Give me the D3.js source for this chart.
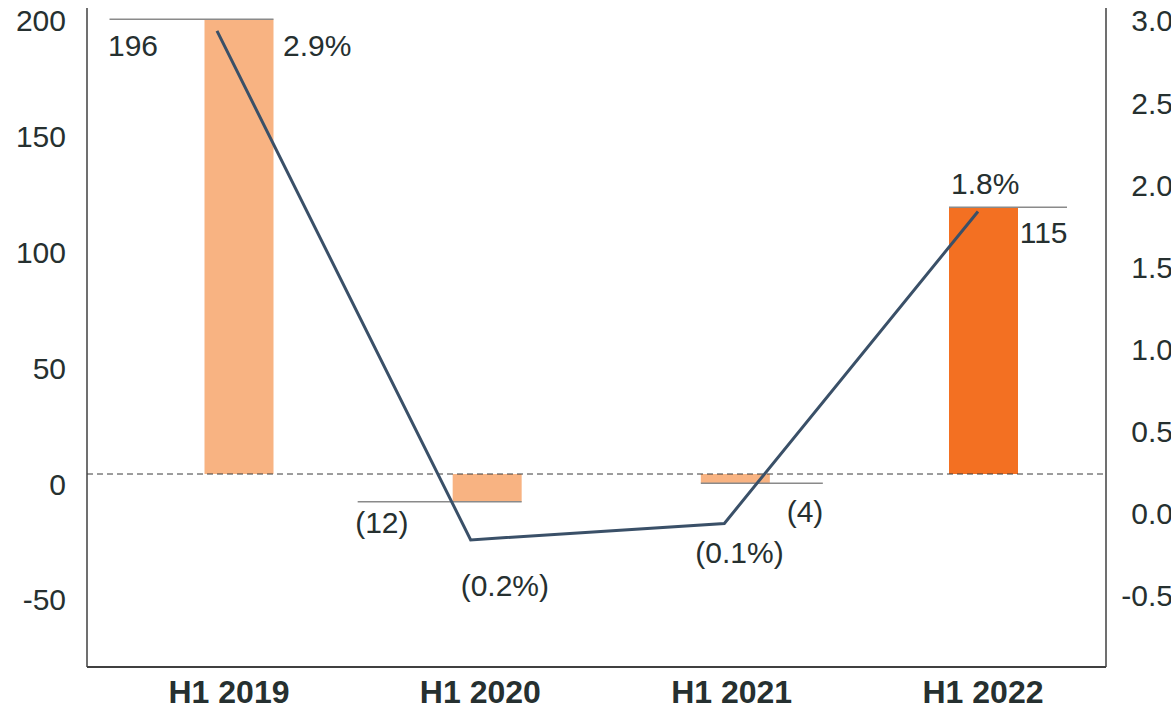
<!DOCTYPE html>
<html>
<head>
<meta charset="utf-8">
<script src="https://cdn.jsdelivr.net/npm/d3@7"></script>
<style>
  html, body { margin: 0; padding: 0; background: #ffffff; }
  svg { display: block; font-family: "Liberation Sans", Arial, sans-serif; }
</style>
</head>
<body>
<svg id="chart" width="1171" height="709"></svg>
<script>
// Half-year results: absolute change (bars, left axis) and margin change in % (line, right axis)
const categories = ["H1 2019", "H1 2020", "H1 2021", "H1 2022"];
const barValues = [196, -12, -4, 115];
const barLabels = ["196", "(12)", "(4)", "115"];
const pctValues = [2.9, -0.2, -0.1, 1.8];
const pctLabels = ["2.9%", "(0.2%)", "(0.1%)", "1.8%"];
const leftTicks = [200, 150, 100, 50, 0, -50];
const rightTicks = [3.0, 2.5, 2.0, 1.5, 1.0, 0.5, 0.0, -0.5];

// Which bars use the highlight colour
const highlight = [false, false, false, true];

const svg = d3.select("#chart");
const textColor = "#263030";
const fontSize = 30;

const plot = { left: 87, right: 1106, top: 8, bottom: 667 };

const yL = d3.scaleLinear().domain([-83.2, 200.9]).range([plot.bottom, plot.top]);
const yR = d3.scaleLinear().domain([-0.974, 3.039]).range([plot.bottom, plot.top]);
const xBar = d3.scalePoint().domain(categories).range([239, 983.5]);
const xLine = d3.scalePoint().domain(categories).range([217, 978]);
const xCat = d3.scalePoint().domain(categories).range([229, 983]);
const barW = 69;

// Bars
svg.append("g").selectAll("rect")
  .data(categories)
  .join("rect")
  .attr("x", d => xBar(d) - barW / 2)
  .attr("width", barW)
  .attr("y", (d, i) => Math.min(yL(0), yL(barValues[i])))
  .attr("height", (d, i) => Math.abs(yL(barValues[i]) - yL(0)))
  .attr("fill", (d, i) => highlight[i] ? "#F37022" : "#F8B382");

// Leader lines at bar ends: [extend left, extend right] beyond the bar
const leaders = [[95, 0], [95, 0], [0, 53], [0, 49]];
svg.append("g").selectAll("line")
  .data(categories)
  .join("line")
  .attr("x1", (d, i) => xBar(d) - barW / 2 - leaders[i][0])
  .attr("x2", (d, i) => xBar(d) + barW / 2 + leaders[i][1])
  .attr("y1", (d, i) => yL(barValues[i]))
  .attr("y2", (d, i) => yL(barValues[i]))
  .attr("stroke", "#8a8a8a")
  .attr("stroke-width", 1.5);

// Zero reference line
svg.append("line")
  .attr("x1", plot.left).attr("x2", plot.right)
  .attr("y1", yL(0)).attr("y2", yL(0))
  .attr("stroke", "#3a3a3a")
  .attr("stroke-width", 1)
  .attr("stroke-dasharray", "6,4");

// Percentage line
const line = d3.line()
  .x((d, i) => xLine(categories[i]))
  .y(d => yR(d));
svg.append("path")
  .datum(pctValues)
  .attr("d", line)
  .attr("fill", "none")
  .attr("stroke", "#3A5068")
  .attr("stroke-width", 3)
  .attr("stroke-linejoin", "miter");

// Axes frame
const axisColor = "#404040";
svg.append("line").attr("x1", plot.left).attr("x2", plot.left)
  .attr("y1", plot.top).attr("y2", plot.bottom)
  .attr("stroke", axisColor).attr("stroke-width", 1.5);
svg.append("line").attr("x1", plot.right).attr("x2", plot.right)
  .attr("y1", plot.top).attr("y2", plot.bottom)
  .attr("stroke", axisColor).attr("stroke-width", 1.5);
svg.append("line").attr("x1", plot.left).attr("x2", plot.right)
  .attr("y1", plot.bottom).attr("y2", plot.bottom)
  .attr("stroke", axisColor).attr("stroke-width", 2);

// Left axis labels (plain hyphen for negatives)
svg.append("g").selectAll("text")
  .data(leftTicks)
  .join("text")
  .attr("x", 66)
  .attr("y", d => yL(d) + 20.5)
  .attr("text-anchor", "end")
  .attr("font-size", fontSize)
  .attr("fill", textColor)
  .text(d => String(d));

// Right axis labels
svg.append("g").selectAll("text")
  .data(rightTicks)
  .join("text")
  .attr("x", 1173)
  .attr("y", d => yR(d) + 17)
  .attr("text-anchor", "end")
  .attr("font-size", fontSize)
  .attr("fill", textColor)
  .text(d => d.toFixed(1));

// Category labels
svg.append("g").selectAll("text")
  .data(categories)
  .join("text")
  .attr("x", d => xCat(d))
  .attr("y", 703)
  .attr("text-anchor", "middle")
  .attr("font-size", 32)
  .attr("font-weight", "bold")
  .attr("fill", textColor)
  .text(d => d);

// Bar value labels: placement relative to bar end
const barLabelPos = [
  { x: -131, dy: 37, anchor: "start" },   // left of bar
  { x: -132, dy: 31, anchor: "start" },
  { x: 88, dy: 39, anchor: "end" },       // right of bar
  { x: 84, dy: 36, anchor: "end" }
];
svg.append("g").selectAll("text")
  .data(categories)
  .join("text")
  .attr("x", (d, i) => xBar(d) + barLabelPos[i].x)
  .attr("y", (d, i) => yL(barValues[i]) + barLabelPos[i].dy)
  .attr("text-anchor", (d, i) => barLabelPos[i].anchor)
  .attr("font-size", fontSize)
  .attr("fill", textColor)
  .text((d, i) => barLabels[i]);

// Percentage labels: placement relative to line point
const pctLabelPos = [
  { dx: 66, dy: 25, anchor: "start" },
  { dx: -10, dy: 56, anchor: "start" },
  { dx: -29, dy: 40, anchor: "start" },
  { dx: -27, dy: -17, anchor: "start" }
];
svg.append("g").selectAll("text")
  .data(categories)
  .join("text")
  .attr("x", (d, i) => xLine(d) + pctLabelPos[i].dx)
  .attr("y", (d, i) => yR(pctValues[i]) + pctLabelPos[i].dy)
  .attr("text-anchor", (d, i) => pctLabelPos[i].anchor)
  .attr("font-size", fontSize)
  .attr("fill", textColor)
  .text((d, i) => pctLabels[i]);
</script>
</body>
</html>
